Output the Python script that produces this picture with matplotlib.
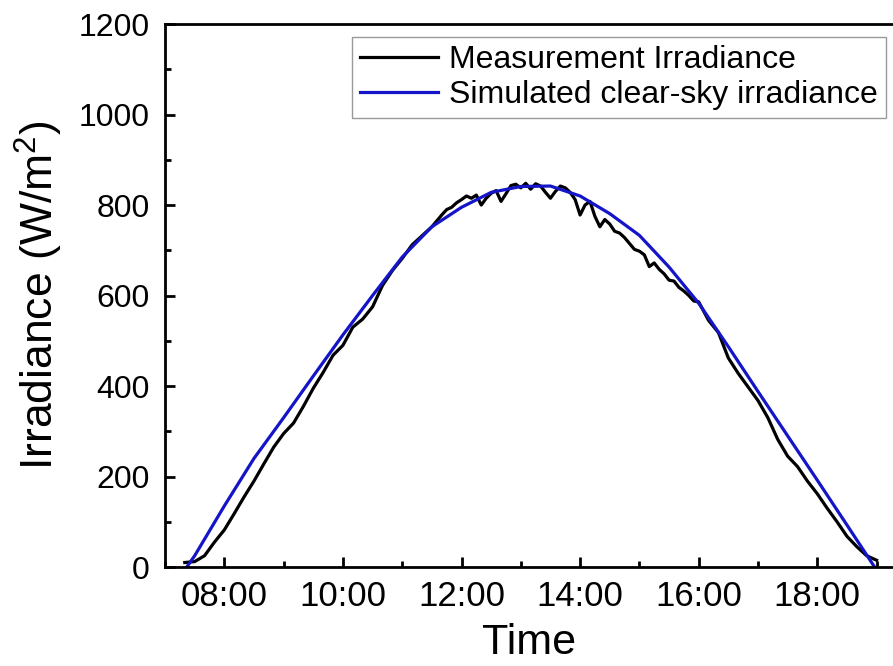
import numpy as np
import matplotlib
matplotlib.use("Agg")
import matplotlib.pyplot as plt
from matplotlib.ticker import MultipleLocator, FuncFormatter

plt.rcParams['font.family'] = ['Liberation Sans', 'DejaVu Sans']
plt.rcParams['mathtext.fontset'] = 'custom'
plt.rcParams['mathtext.rm'] = 'Liberation Sans'
plt.rcParams['mathtext.it'] = 'Liberation Sans'

# measured irradiance (10 min steps, 5 min around noon)
meas_time = ["07:20", "07:30", "07:40", "07:50", "08:00", "08:10", "08:20", "08:30",
             "08:40", "08:50", "09:00", "09:10", "09:20", "09:30", "09:40", "09:50",
             "10:00", "10:10", "10:20", "10:30", "10:40", "10:50", "11:00", "11:10",
             "11:20",
             "11:30", "11:35", "11:40", "11:45", "11:50", "11:55",
             "12:00", "12:05", "12:10", "12:15", "12:20", "12:25",
             "12:30", "12:35", "12:40", "12:45", "12:50", "12:55",
             "13:00", "13:05", "13:10", "13:15", "13:20", "13:25",
             "13:30", "13:35", "13:40", "13:45", "13:50", "13:55",
             "14:00", "14:05", "14:10", "14:15", "14:20", "14:25",
             "14:30", "14:35", "14:40", "14:45", "14:50", "14:55",
             "15:00", "15:05", "15:10", "15:15", "15:20", "15:25",
             "15:30", "15:35", "15:40", "15:45", "15:50", "15:55",
             "16:00", "16:10", "16:20", "16:30",
             "16:40", "16:50", "17:00", "17:10", "17:20", "17:30", "17:40", "17:50",
             "18:00", "18:10", "18:20", "18:30", "18:40", "18:50", "19:00"]
meas_val = [10, 12, 25, 55, 82, 118, 155, 190,
            228, 265, 295, 318, 355, 395, 430, 468,
            490, 530, 548, 575, 622, 655, 682, 712,
            732,
            752, 765, 778, 790, 795, 805,
            812, 820, 815, 822, 800, 815,
            826, 832, 808, 825, 843, 846,
            838, 848, 835, 847, 842, 828,
            815, 830, 842, 838, 828, 812,
            778, 800, 808, 775, 752, 768,
            758, 742, 738, 728, 715, 702,
            698, 690, 664, 672, 658, 648,
            634, 632, 618, 610, 600, 588,
            586, 545, 518, 462,
            428, 398, 368, 330, 282, 245, 222, 190,
            162, 130, 100, 68, 45, 25, 15]

# simulated clear-sky irradiance
sim_time = ["07:22", "07:30", "08:00", "08:30", "09:00", "09:30", "10:00", "10:30",
            "11:00", "11:30", "12:00", "12:30", "13:00", "13:30", "14:00", "14:30",
            "15:00", "15:30", "16:00", "16:30", "17:00", "17:30", "18:00", "18:30",
            "18:58"]
sim_val = [0, 25, 135, 240, 330, 422, 513, 600,
           685, 752, 795, 828, 841, 842, 820, 781,
           733, 663, 583, 487, 388, 290, 192, 93,
           0]


def to_hours(times):
    return np.array([int(t[:2]) + int(t[3:]) / 60 for t in times])


fig = plt.figure(figsize=(8.93, 6.66), dpi=100)
# right spine lies outside the picture in the original
ax = fig.add_axes([0.1848, 0.1486, 0.83, 0.8153])

ax.plot(to_hours(meas_time), meas_val, color='black', lw=2.3, label='Measurement Irradiance')
ax.plot(to_hours(sim_time), sim_val, color='#1414c8', lw=2.3, label='Simulated clear-sky irradiance')

ax.set_xlim(7, 19.5)
ax.set_ylim(0, 1200)
ax.xaxis.set_major_locator(MultipleLocator(2))
ax.xaxis.set_minor_locator(MultipleLocator(1))
ax.yaxis.set_major_locator(MultipleLocator(200))
ax.yaxis.set_minor_locator(MultipleLocator(100))
ax.xaxis.set_major_formatter(FuncFormatter(lambda v, p: "%02d:00" % int(round(v))))

ax.tick_params(which='both', direction='in', width=2, top=False, right=False)
ax.tick_params(which='major', length=7)
ax.tick_params(which='minor', length=4)
ax.tick_params(axis='y', labelsize=23, pad=11)
ax.tick_params(axis='x', labelsize=25, pad=9)
for s in ax.spines.values():
    s.set_linewidth(2)

ax.set_xlabel('Time', fontsize=31)
ax.set_ylabel('Irradiance (W/m$^2$)', fontsize=32)
ax.xaxis.set_label_coords(0.491, -0.103)
ax.yaxis.set_label_coords(-0.135, 0.5)

leg = ax.legend(loc='upper left', bbox_to_anchor=(0.252, 0.976), fontsize=23,
                frameon=True, fancybox=False, edgecolor='#808080',
                handlelength=2.45, handletextpad=0.35, borderpad=0.25,
                labelspacing=0.15, borderaxespad=0)
leg.get_frame().set_linewidth(1)

fig.savefig('out.png', dpi=100)
